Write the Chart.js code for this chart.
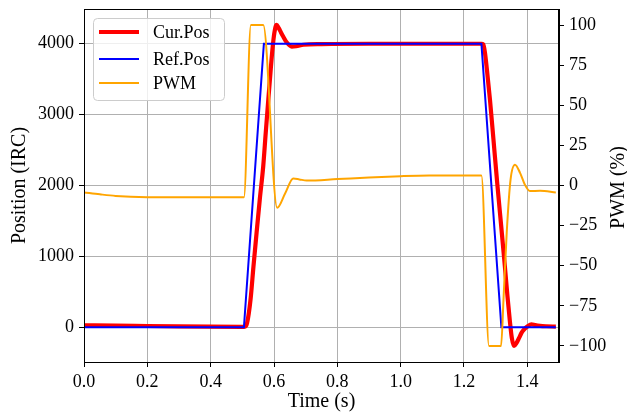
<!DOCTYPE html>
<html>
<head>
<meta charset="utf-8">
<script src="https://cdn.jsdelivr.net/npm/chart.js@4/dist/chart.umd.min.js"></script>
<style>
  html, body { margin: 0; padding: 0; background: #fff; }
  #wrap { width: 627px; height: 414px; }
</style>
</head>
<body>
<div id="wrap"><canvas id="posChart" width="627" height="414"></canvas></div>
<script>
// ---- data ----
const xTicks = [0, 0.2, 0.4, 0.6, 0.8, 1.0, 1.2, 1.4];
const posTicks = [0, 1000, 2000, 3000, 4000];
const pwmTicks = [-100, -75, -50, -25, 0, 25, 50, 75, 100];

// Cur.Pos (IRC)
const curT = [0, 0.1, 0.2, 0.3, 0.4, 0.5, 0.508, 0.515, 0.526, 0.535, 0.545, 0.555, 0.566, 0.574,
  0.582, 0.589, 0.595, 0.601, 0.608, 0.615, 0.622, 0.629, 0.64, 0.656, 0.67, 0.693, 0.75, 0.9, 1.1,
  1.255, 1.261, 1.266, 1.272, 1.282, 1.293, 1.305, 1.317, 1.329, 1.337, 1.345, 1.351, 1.358, 1.366,
  1.374, 1.382, 1.391, 1.4, 1.413, 1.425, 1.44, 1.46, 1.49];
const curPos = [28, 25, 18, 12, 8, 6, 8, 60, 394, 850, 1333, 1800, 2272, 2750,
  3211, 3600, 3915, 4150, 4268, 4220, 4160, 4103, 4020, 3960, 3965, 3986, 3995, 4000, 4000,
  4000, 3990, 3880, 3650, 3211, 2650, 2030, 1450, 863, 450, 80, -150, -263, -220,
  -150, -75, -25, 10, 42, 30, 20, 14, 10];

// Ref.Pos (IRC)
const refT = [0, 0.505, 0.568, 1.255, 1.318, 1.49];
const refPos = [0, 0, 4000, 4000, 0, 0];

// PWM (%)
const pwmT = [0, 0.05, 0.1, 0.2, 0.3, 0.4, 0.505, 0.527, 0.566, 0.61, 0.635, 0.661, 0.68, 0.703,
  0.8, 0.9, 1.0, 1.09, 1.255, 1.279, 1.317, 1.325, 1.335, 1.347, 1.361, 1.377, 1.392, 1.408, 1.44, 1.49];
const pwmVal = [-4.3, -5.5, -6.5, -7.3, -7.4, -7.4, -7.4, 100, 100, -13.9, -5, 4.3, 3.8, 3.1,
  4, 5, 5.8, 6.2, 6.2, -100, -100, -70, -29, 3.7, 13, 7.9, 0.6, -3.5, -3.3, -4.3];

const FONT = "'Liberation Serif', 'DejaVu Serif', serif";
const RED = '#ff0000', BLUE = '#0000ff', ORANGE = '#ffa500';

function toXY(ts, vs) { return ts.map((t, i) => ({ x: t, y: vs[i] })); }
const minus = v => String(v).replace('-', '\u2212');

// y scales: fixed width, no extra label padding above/below the plot
function fixY(w) {
  return s => { s.width = w; s.paddingTop = 0; s.paddingBottom = 0; };
}

// frame, right axis title and in-plot legend
const extras = {
  id: 'extras',
  afterDraw(chart) {
    const { ctx, chartArea: a } = chart;
    ctx.save();
    ctx.strokeStyle = '#000';
    ctx.lineWidth = 1;
    ctx.strokeRect(a.left + 0.5, a.top + 0.5, a.right - a.left - 1, a.bottom - a.top);

    // right axis title, reads bottom-to-top
    ctx.translate(619, (a.top + a.bottom) / 2 + 2);
    ctx.rotate(-Math.PI / 2);
    ctx.font = '20px ' + FONT;
    ctx.fillStyle = '#000';
    ctx.textAlign = 'center';
    ctx.textBaseline = 'middle';
    ctx.fillText('PWM (%)', 0, 0);
    ctx.restore();

    // legend box
    ctx.save();
    ctx.beginPath();
    ctx.roundRect(93.5, 18.5, 131, 82, 4);
    ctx.fillStyle = 'rgba(255,255,255,0.8)';
    ctx.fill();
    ctx.strokeStyle = '#cccccc';
    ctx.lineWidth = 1;
    ctx.stroke();
    const items = [
      { label: 'Cur.Pos', color: RED, w: 4.2, y: 32 },
      { label: 'Ref.Pos', color: BLUE, w: 2, y: 59 },
      { label: 'PWM', color: ORANGE, w: 2, y: 83 },
    ];
    ctx.font = '18px ' + FONT;
    ctx.textBaseline = 'middle';
    ctx.textAlign = 'left';
    items.forEach(it => {
      ctx.beginPath();
      ctx.strokeStyle = it.color;
      ctx.lineWidth = it.w;
      ctx.moveTo(99, it.y);
      ctx.lineTo(139, it.y);
      ctx.stroke();
      ctx.fillStyle = '#000';
      ctx.fillText(it.label, 153, it.y + 1);
    });
    ctx.restore();
  },
};

Chart.defaults.font.family = FONT;
Chart.defaults.color = '#000';

new Chart(document.getElementById('posChart'), {
  type: 'line',
  data: {
    datasets: [
      {
        label: 'Cur.Pos', data: toXY(curT, curPos), yAxisID: 'y',
        borderColor: RED, borderWidth: 4.2, cubicInterpolationMode: 'monotone', order: 3,
      },
      {
        label: 'Ref.Pos', data: toXY(refT, refPos), yAxisID: 'y',
        borderColor: BLUE, borderWidth: 2, tension: 0, order: 2,
      },
      {
        label: 'PWM', data: toXY(pwmT, pwmVal), yAxisID: 'y2',
        borderColor: ORANGE, borderWidth: 2, cubicInterpolationMode: 'monotone', order: 1,
      },
    ],
  },
  options: {
    responsive: false,
    animation: false,
    devicePixelRatio: 1,
    layout: { padding: { top: 9, left: 0, right: 0, bottom: 0 } },
    elements: { point: { radius: 0 }, line: { fill: false } },
    plugins: { legend: { display: false }, tooltip: { enabled: false } },
    scales: {
      x: {
        type: 'linear', min: 0, max: 1.5,
        afterBuildTicks: s => { s.ticks = xTicks.map(v => ({ value: v })); },
        afterFit: s => { s.height = 52; },
        ticks: { font: { size: 18 }, padding: 4, maxRotation: 0, callback: v => v.toFixed(1) },
        grid: { color: '#b0b0b0', lineWidth: 1, tickColor: '#000', tickLength: 5 },
        border: { color: '#000', width: 1 },
        title: { display: true, text: 'Time (s)', font: { size: 20 }, padding: { top: 5, bottom: 0 } },
      },
      y: {
        type: 'linear', position: 'left', min: -490, max: 4490,
        afterBuildTicks: s => { s.ticks = posTicks.map(v => ({ value: v })); },
        afterFit: fixY(84),
        ticks: { font: { size: 18 }, padding: 5, callback: v => minus(v) },
        grid: { color: '#b0b0b0', lineWidth: 1, tickColor: '#000', tickLength: 5 },
        border: { color: '#000', width: 1 },
        title: { display: true, text: 'Position (IRC)', font: { size: 20 }, padding: { top: 8, bottom: 0 } },
      },
      y2: {
        type: 'linear', position: 'right', min: -110, max: 110,
        afterBuildTicks: s => { s.ticks = pwmTicks.map(v => ({ value: v })); },
        afterFit: fixY(68),
        ticks: { font: { size: 18 }, padding: 5, callback: v => minus(v) },
        grid: { drawOnChartArea: false, tickColor: '#000', tickLength: 5 },
        border: { color: '#000', width: 1 },
      },
    },
  },
  plugins: [extras],
});
</script>
</body>
</html>
